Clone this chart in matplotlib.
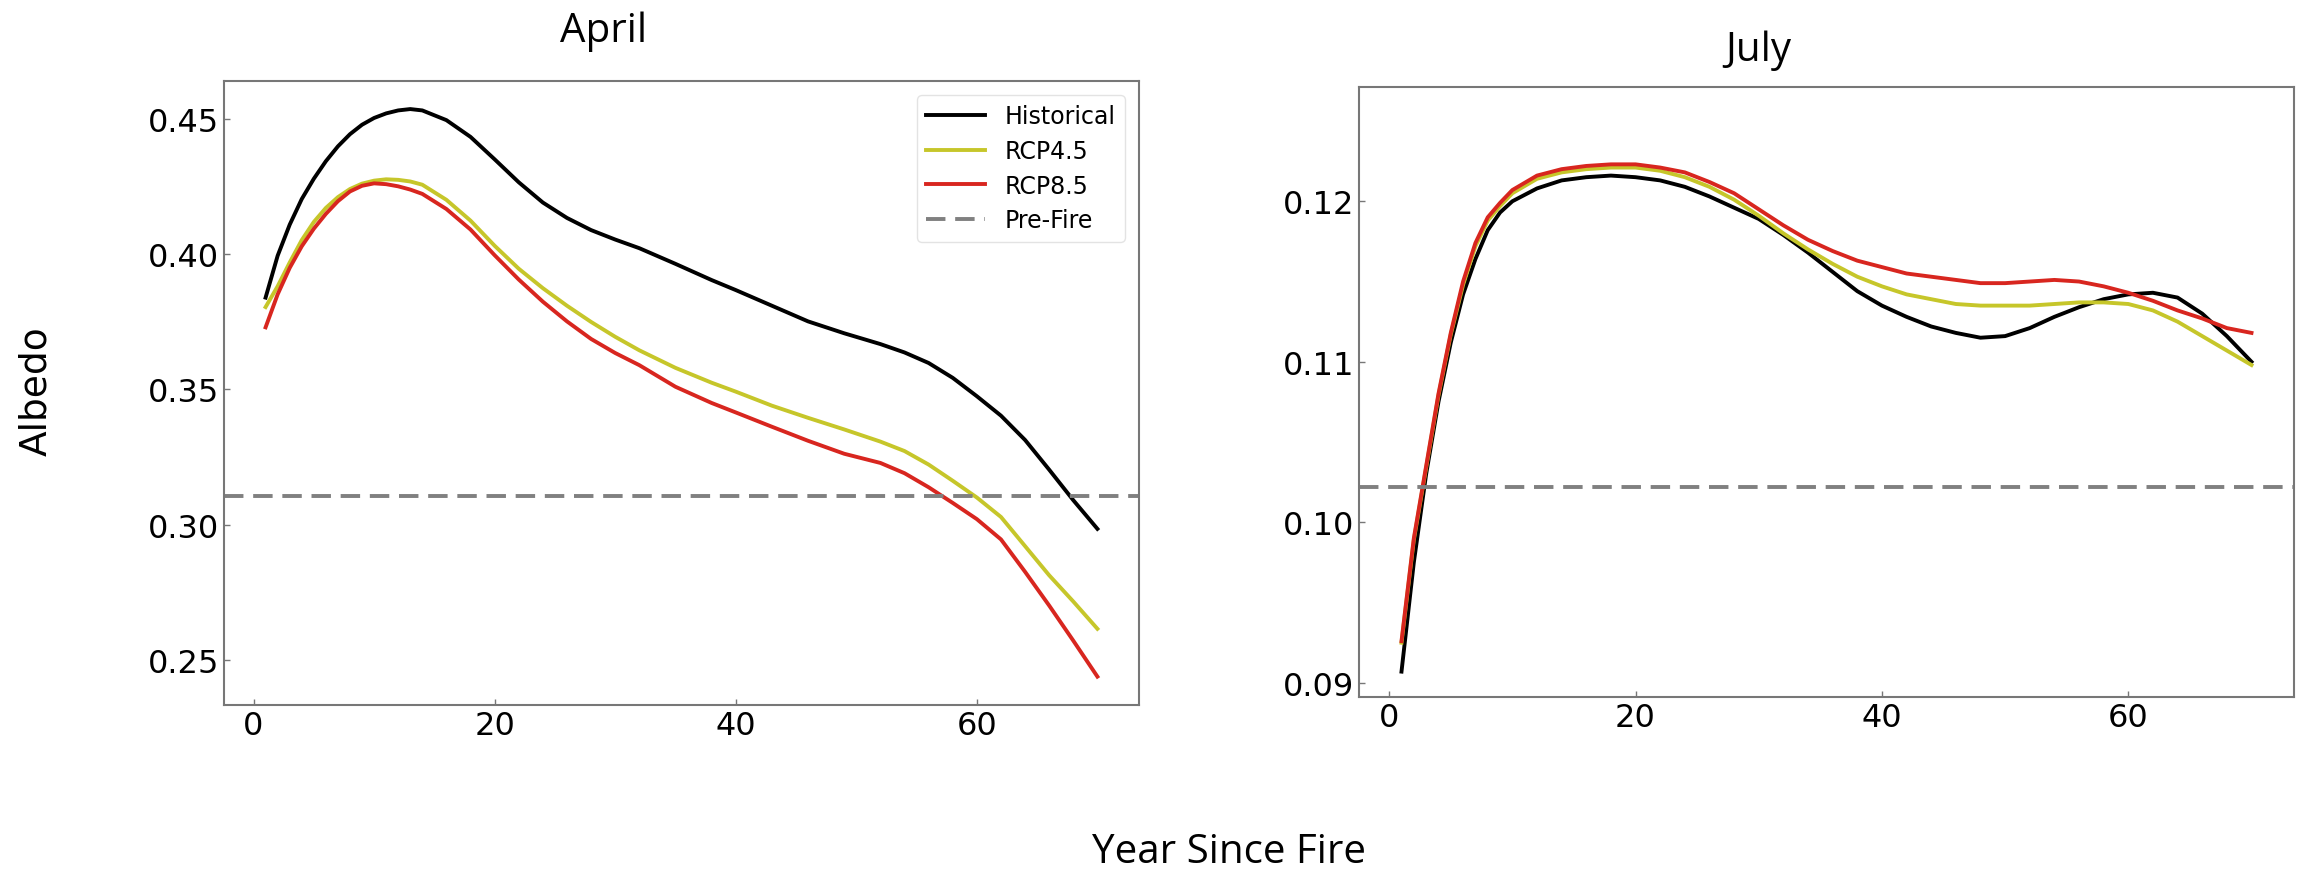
import matplotlib
matplotlib.use('Agg')
import matplotlib.pyplot as plt

# April panel
april_years = [1, 2, 3, 4, 5, 6, 7, 8, 9, 10, 11, 12, 13, 14, 16, 18, 20, 22, 24, 26, 28, 30, 32,
               35, 38, 40, 43, 46, 49, 52, 54, 56, 58, 60, 62, 64, 66, 68, 70]
april_hist = [.3840, .3995, .4110, .4205, .4280, .4345, .4400, .4445, .4480, .4505, .4522, .4533,
              .4538, .4533, .4497, .4435, .4352, .4267, .4192, .4135, .4090, .4055, .4023, .3965,
              .3905, .3868, .3810, .3752, .3708, .3668, .3637, .3598, .3543, .3475, .3403, .3313,
              .3203, .3090, .2984]
april_rcp45 = [.3805, .3882, .3970, .4053, .4120, .4172, .4212, .4242, .4262, .4273, .4278, .4276,
               .4270, .4258, .4202, .4125, .4032, .3947, .3875, .3810, .3750, .3695, .3645, .3580,
               .3525, .3492, .3440, .3395, .3352, .3307, .3272, .3222, .3162, .3100, .3028, .2920,
               .2812, .2715, .2614]
april_rcp85 = [.3730, .3852, .3950, .4030, .4095, .4150, .4197, .4233, .4254, .4263, .4260, .4252,
               .4240, .4224, .4168, .4092, .3997, .3907, .3825, .3752, .3687, .3635, .3590, .3510,
               .3450, .3415, .3362, .3310, .3262, .3228, .3190, .3138, .3080, .3020, .2945, .2825,
               .2700, .2570, .2437]
april_prefire = 0.3106

# July panel
july_years = [1, 2, 3, 4, 5, 6, 7, 8, 9, 10, 12, 14, 16, 18, 20, 22, 24, 26, 28, 30,
              32, 34, 36, 38, 40, 42, 44, 46, 48, 50, 52, 54, 56, 58, 60, 62, 64, 66, 68, 70]
july_hist = [.0907, .0975, .1030, .1075, .1112, .1142, .1164, .1182, .1193, .1200, .1208, .1213,
             .1215, .1216, .1215, .1213, .1209, .1203, .1196, .1189, .1179, .1168, .1156, .1144,
             .1135, .1128, .1122, .1118, .1115, .1116, .1121, .1128, .1134, .1139, .1142, .1143,
             .1140, .1130, .1116, .1100]
july_rcp45 = [.0925, .0989, .1034, .1079, .1117, .1148, .1172, .1188, .1197, .1205, .1214, .1218,
              .1220, .1221, .1221, .1219, .1215, .1209, .1201, .1191, .1180, .1170, .1161, .1153,
              .1147, .1142, .1139, .1136, .1135, .1135, .1135, .1136, .1137, .1137, .1136, .1132,
              .1125, .1116, .1107, .1098]
july_rcp85 = [.0926, .0990, .1035, .1080, .1118, .1150, .1174, .1190, .1199, .1207, .1216, .1220,
              .1222, .1223, .1223, .1221, .1218, .1212, .1205, .1195, .1185, .1176, .1169, .1163,
              .1159, .1155, .1153, .1151, .1149, .1149, .1150, .1151, .1150, .1147, .1143, .1138,
              .1132, .1127, .1121, .1118]
july_prefire = 0.1022

labels = ['Historical', 'RCP4.5', 'RCP8.5', 'Pre-Fire']
colors = ['#000000', '#c6c62a', '#d8261f']

title_font = 'Open Sans'

fig = plt.figure(figsize=(23.08, 8.70), dpi=100)
ax1 = fig.add_axes([0.09705, 0.18851, 0.39645, 0.71759])
ax2 = fig.add_axes([0.58882, 0.19736, 0.40511, 0.70115])


def draw_panel(ax, years, series, prefire):
    for vals, c, lab in zip(series, colors, labels[:3]):
        ax.plot(years, vals, color=c, lw=2.8, label=lab, solid_joinstyle='round')
    ax.axhline(prefire, color='#808080', lw=2.8, linestyle=(0, (5, 2.5)), label=labels[3])
    ax.set_xticks([0, 20, 40, 60])
    ax.tick_params(direction='in', length=4, width=1, colors='#777777',
                   labelcolor='black', labelsize=23)
    for s in ax.spines.values():
        s.set_color('#777777')
        s.set_linewidth(1.5)


draw_panel(ax1, april_years, [april_hist, april_rcp45, april_rcp85], april_prefire)
ax1.set_yticks([0.25, 0.30, 0.35, 0.40, 0.45])
ax1.set_yticklabels(['0.25', '0.30', '0.35', '0.40', '0.45'])
ax1.legend(loc='upper right', fontsize=17, handlelength=2.5, handletextpad=0.8,
           labelspacing=0.45, borderaxespad=0.6, edgecolor='#dddddd')

draw_panel(ax2, july_years, [july_hist, july_rcp45, july_rcp85], july_prefire)
ax2.set_ylim(0.0891, 0.1271)
ax2.set_yticks([0.09, 0.10, 0.11, 0.12])
ax2.set_yticklabels(['0.09', '0.10', '0.11', '0.12'])

fig.text(0.2613, 0.952, 'April', ha='center', va='baseline', fontsize=29, family=title_font)
fig.text(0.7617, 0.93, 'July', ha='center', va='baseline', fontsize=29, family=title_font)
fig.text(0.5325, 0.0084, 'Year Since Fire', ha='center', va='baseline', fontsize=29,
         family=title_font)
fig.text(0.0156, 0.5506, 'Albedo', ha='center', va='center', rotation=90, fontsize=27)

fig.savefig('out.png', dpi=100)
